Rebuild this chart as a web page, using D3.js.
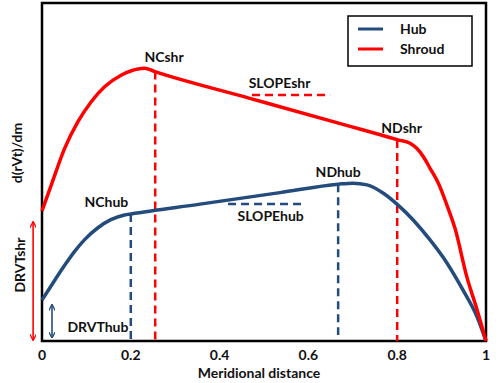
<!DOCTYPE html>
<html><head><meta charset="utf-8">
<script src="https://cdn.jsdelivr.net/npm/d3@7"></script>
<style>body{margin:0;background:#fff}text{font-family:Lato,"Open Sans",sans-serif;font-weight:bold;fill:#111}</style>
</head><body><svg id="c" width="500" height="383"></svg>
<script>
// data (x: meridional distance, y: d(rVt)/dm arbitrary units 0..100)
const shroudX = [0,0.021,0.051,0.081,0.111,0.141,0.179,0.216,0.231,0.254,0.468,0.694,0.76,0.802,0.829,0.844,0.859,0.874,0.893,0.912,0.930,0.957,0.980,1.0];
const shroudY = [38.5,46.2,57.0,64.9,70.8,75.2,78.7,80.5,80.7,79.7,71.8,63.5,61.1,59.5,58.5,57.0,54.5,51.1,46.6,40.2,33.4,18.9,9.2,0];
const hubX = [0,0.02,0.051,0.074,0.096,0.126,0.155,0.186,0.2,0.356,0.536,0.667,0.700,0.732,0.768,0.802,0.836,0.874,0.912,0.948,0.980,1.0];
const hubY = [12.1,16.2,22.4,26.6,30.0,33.5,35.9,37.3,37.6,40.5,43.9,46.4,46.7,46.2,43.8,40.2,35.8,29.9,23.1,15.1,7.1,0];
const xTicks = [0,0.2,0.4,0.6,0.8,1];
// markers: vertical dashed lines [x, yTop, yBottom, series]
const vMarks = [[0.255,79.7,0,"shr"],[0.8,59.5,0,"shr"],[0.2,37.6,0,"hub"],[0.667,46.4,1.8,"hub"]];
// horizontal slope lines [x0, x1, y, series]
const hMarks = [[0.473,0.649,72.8,"shr"],[0.419,0.592,40.5,"hub"]];
// point labels [text, x, y]
const labels = [["NCshr",0.275,82.5],["NDshr",0.81,61.5],["NChub",0.145,39.5],["NDhub",0.667,48.5],["SLOPEshr",0.535,75],["SLOPEhub",0.515,35.5],["DRVThub",0.126,2.7]];
// double arrows [x, yTop, yBottom, series]
const arrows = [[-0.02,35.2,0.3,"shr"],[0.0225,10.7,1,"hub"]];

const col = {hub:"#234c7c", shr:"#ff0000"};
const svg = d3.select("#c");
const L=42,R=486,T=3,B=341;
const x = d3.scaleLinear().domain([0,1]).range([L,R]);
const y = d3.scaleLinear().domain([0,100]).range([B,B-338]);
const FS = 14;

const defs = svg.append("defs");
["hub","shr"].forEach(k=>{
  defs.append("marker").attr("id","a"+k).attr("viewBox","0 0 10 10").attr("refX",9).attr("refY",5)
   .attr("markerWidth",4).attr("markerHeight",4).attr("orient","auto-start-reverse")
   .append("path").attr("d","M0,0L10,5L0,10").attr("fill","none").attr("stroke",col[k]).attr("stroke-width",2);
});

// frame
svg.append("rect").attr("x",L).attr("y",T).attr("width",R-L).attr("height",B-T)
  .attr("fill","none").attr("stroke","#000").attr("stroke-width",2.5);

// vertical dashed
svg.selectAll(".vm").data(vMarks).enter().append("line")
  .attr("x1",d=>x(d[0])).attr("x2",d=>x(d[0])).attr("y1",d=>y(d[1])).attr("y2",d=>y(d[2]))
  .attr("stroke",d=>col[d[3]]).attr("stroke-width",2.5).attr("stroke-dasharray","8,5");
svg.selectAll(".hm").data(hMarks).enter().append("line")
  .attr("x1",d=>x(d[0])).attr("x2",d=>x(d[1])).attr("y1",d=>y(d[2])).attr("y2",d=>y(d[2]))
  .attr("stroke",d=>col[d[3]]).attr("stroke-width",2.5).attr("stroke-dasharray","8,5");

const line = d3.line().x(d=>x(d[0])).y(d=>y(d[1])).curve(d3.curveMonotoneX);
svg.append("path").attr("d",line(hubX.map((v,i)=>[v,hubY[i]]))).attr("fill","none").attr("stroke",col.hub).attr("stroke-width",3.5).attr("stroke-linejoin","round");
svg.append("path").attr("d",line(shroudX.map((v,i)=>[v,shroudY[i]]))).attr("fill","none").attr("stroke",col.shr).attr("stroke-width",3.5).attr("stroke-linejoin","round");

// arrows
svg.selectAll(".ar").data(arrows).enter().append("line")
  .attr("x1",d=>x(d[0])).attr("x2",d=>x(d[0])).attr("y1",d=>y(d[1])).attr("y2",d=>y(d[2]))
  .attr("stroke",d=>col[d[3]]).attr("stroke-width",1.6)
  .attr("marker-start",d=>"url(#a"+d[3]+")").attr("marker-end",d=>"url(#a"+d[3]+")");

// labels
svg.selectAll(".lb").data(labels).enter().append("text")
  .attr("x",d=>x(d[1])).attr("y",d=>y(d[2])).attr("text-anchor","middle").attr("font-size",FS).text(d=>d[0]);

// x axis ticks
svg.selectAll(".xt").data(xTicks).enter().append("text")
  .attr("x",d=>x(d)).attr("y",360).attr("text-anchor","middle").attr("font-size",FS).text(d=>d3.format("~g")(d));
svg.append("text").attr("x",(L+R)/2-5).attr("y",378).attr("text-anchor","middle").attr("font-size",FS).text("Meridional distance");
svg.append("text").attr("transform","translate(22,153) rotate(-90)").attr("text-anchor","middle").attr("font-size",FS).text("d(rVt)/dm");
svg.append("text").attr("transform","translate(25,265) rotate(-90)").attr("text-anchor","middle").attr("font-size",FS).text("DRVTshr");

// legend
const lg = svg.append("g");
lg.append("rect").attr("x",348).attr("y",16).attr("width",124).attr("height",50).attr("fill","#fff").attr("stroke","#000").attr("stroke-width",1.5);
[["Hub","hub",29],["Shroud","shr",49]].forEach(d=>{
  lg.append("line").attr("x1",358).attr("x2",383).attr("y1",d[2]).attr("y2",d[2]).attr("stroke",col[d[1]]).attr("stroke-width",3);
  lg.append("text").attr("x",400).attr("y",d[2]+5).attr("font-size",FS).text(d[0]);
});
</script></body></html>
